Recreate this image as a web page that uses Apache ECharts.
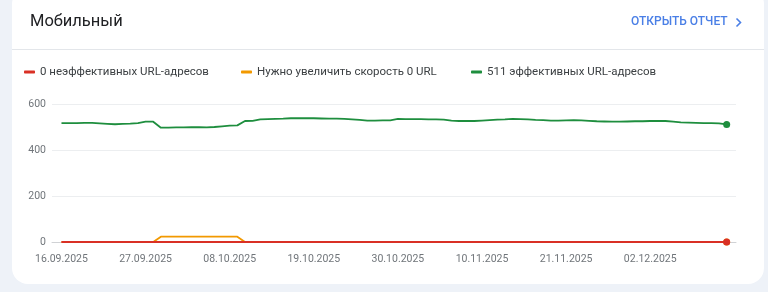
<!DOCTYPE html>
<html>
<head>
<meta charset="utf-8">
<script src="https://cdn.jsdelivr.net/npm/echarts@6/dist/echarts.min.js"></script>
<style>
  html, body { margin:0; padding:0; width:768px; height:292px; overflow:hidden; background:#eef2f8; }
  #card { position:absolute; left:12px; top:-12px; width:752px; height:296px; background:#fff; border-radius:16px; }
  #sep { position:absolute; left:12px; top:49px; width:752px; height:1px; background:#e3e6ea; }
  #chart { position:absolute; left:0; top:0; width:768px; height:292px; }
</style>
</head>
<body>
<div id="card"></div>
<div id="sep"></div>
<div id="chart"></div>
<script>
// Day index 0 = 16.09.2025, last index 87 = 12.12.2025
var tickIndex = [0, 11, 22, 33, 44, 55, 66, 77];
var tickLabels = ['16.09.2025', '27.09.2025', '08.10.2025', '19.10.2025', '30.10.2025', '10.11.2025', '21.11.2025', '02.12.2025'];

var seriesNames = ['0 неэффективных URL-адресов', 'Нужно увеличить скорость 0 URL', '511 эффективных URL-адресов'];

var poorValues = [
  0,0,0,0,0,0,0,0,0,0, 0,0,0,0,0,0,0,0,0,0,
  0,0,0,0,0,0,0,0,0,0, 0,0,0,0,0,0,0,0,0,0,
  0,0,0,0,0,0,0,0,0,0, 0,0,0,0,0,0,0,0,0,0,
  0,0,0,0,0,0,0,0,0,0, 0,0,0,0,0,0,0,0,0,0,
  0,0,0,0,0,0,0,0
];
var needsValues = [
  0,0,0,0,0,0,0,0,0,0, 0,0,0,23,23,23,23,23,23,23,
  23,23,23,23,0,0,0,0,0,0, 0,0,0,0,0,0,0,0,0,0,
  0,0,0,0,0,0,0,0,0,0, 0,0,0,0,0,0,0,0,0,0,
  0,0,0,0,0,0,0,0,0,0, 0,0,0,0,0,0,0,0,0,0,
  0,0,0,0,0,0,0,0
];
var goodValues = [
  517,517,517,518,518,516,514,512,514,515, 517,523,523,497,497,498,498,499,499,498,
  500,503,506,507,526,527,533,534,535,536, 538,539,538,538,537,536,536,535,533,531,
  528,528,529,529,535,534,534,534,533,533, 532,528,526,526,526,528,530,532,533,535,
  534,533,531,530,528,528,529,530,529,527, 525,524,523,523,524,525,525,526,526,526,
  523,520,519,518,517,517,516,511
];

function toData(vals) {
  var last = vals.length - 1;
  return vals.map(function (v, i) {
    return { value: [i, v], symbol: i === last ? 'circle' : 'none', symbolSize: 7 };
  });
}

function legendFor(name, left) {
  return {
    left: left, top: 61,
    data: [name],
    icon: 'roundRect',
    itemWidth: 11, itemHeight: 3,
    textStyle: { fontSize: 11.5, color: '#3c4043', fontFamily: 'Roboto' },
    selectedMode: false
  };
}

var chart = echarts.init(document.getElementById('chart'));
chart.setOption({
  animation: false,
  textStyle: { fontFamily: 'Roboto' },
  graphic: [
    { type: 'text', left: 30, top: 13, style: { text: 'Мобильный', fontFamily: 'Roboto', fontSize: 16.5, fill: '#202124' } },
    { type: 'text', left: 631, top: 16, style: { text: 'ОТКРЫТЬ ОТЧЕТ', fontFamily: 'Roboto', fontSize: 12, fontWeight: 500, fill: '#4a7fe6' } },
    { type: 'polyline', shape: { points: [[736.5, 18.5], [740.5, 22.5], [736.5, 26.5]] }, style: { stroke: '#4a7fe6', lineWidth: 1.6, fill: null } }
  ],
  legend: [
    legendFor(seriesNames[0], 19),
    legendFor(seriesNames[1], 236),
    legendFor(seriesNames[2], 466)
  ],
  grid: { left: 52, right: 32, top: 104, bottom: 50 },
  xAxis: {
    type: 'value',
    min: -1.24, max: 88.22,
    splitLine: { show: false },
    axisTick: { show: false },
    axisLine: { show: true, lineStyle: { color: '#d0d2d5', width: 1 } },
    axisLabel: {
      customValues: tickIndex,
      formatter: function (v) { var k = tickIndex.indexOf(Math.round(v)); return k >= 0 ? tickLabels[k] : ''; },
      color: '#70757a', fontSize: 10.5, margin: 12, fontFamily: 'Roboto'
    }
  },
  yAxis: {
    type: 'value', min: 0, max: 600, interval: 200,
    axisLine: { show: false }, axisTick: { show: false },
    splitLine: { lineStyle: { color: '#eceef0', width: 1 } },
    axisLabel: { color: '#70757a', fontSize: 10.5, margin: 6, fontFamily: 'Roboto' }
  },
  series: [
    { name: seriesNames[1], type: 'line', z: 2, data: toData(needsValues), symbol: 'none', lineStyle: { color: '#f29900', width: 1.8 }, itemStyle: { color: '#f29900' } },
    { name: seriesNames[0], type: 'line', z: 3, data: toData(poorValues), lineStyle: { color: '#d93025', width: 2 }, itemStyle: { color: '#d93025' } },
    { name: seriesNames[2], type: 'line', z: 4, data: toData(goodValues), lineStyle: { color: '#1e8e3e', width: 1.8 }, itemStyle: { color: '#1e8e3e' } }
  ]
});
</script>
</body>
</html>
